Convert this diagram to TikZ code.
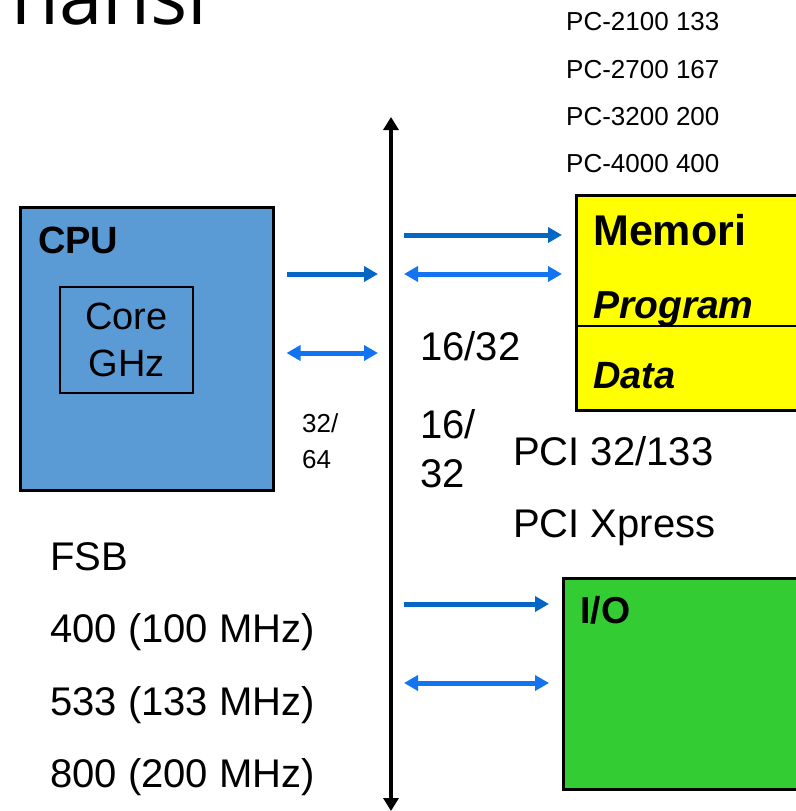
\documentclass[tikz,border=0pt]{standalone}
\usepackage{fontspec}
\setmainfont{Liberation Sans}
\newfontfamily\titlefont{Open Sans}
\usetikzlibrary{positioning,arrows.meta}
\definecolor{cpublue}{RGB}{91,155,213}
\definecolor{arrdk}{RGB}{5,102,196}
\definecolor{arrlt}{RGB}{18,116,240}
\definecolor{memyel}{RGB}{255,255,0}
\definecolor{iogreen}{RGB}{51,204,51}

\begin{document}
\begin{tikzpicture}[
  x=1pt, y=-1pt,
  lbl/.style={anchor=base west, inner sep=0pt, align=left},
  big/.style={font=\fontsize{40}{47}\selectfont},
  small/.style={font=\fontsize{26}{36}\selectfont},
  unit/.style={draw, line width=3pt, inner sep=0pt},
  sarr/.style={arrdk, line width=5pt, shorten <=13pt, shorten >=13pt,
               -{Triangle[length=14pt, width=15pt]}},
  darr/.style={arrlt, line width=5pt, shorten <=13pt, shorten >=13pt,
               {Triangle[length=14pt, width=15pt]}-{Triangle[length=14pt, width=15pt]}},
]
\useasboundingbox (0,0) rectangle (795,811);
% Title (cut off at the top)
\node[lbl, font=\fontsize{78}{78}\titlefont] (title) at (11,24) {nansi};
% Bus
\coordinate (bustop) at (391,117);
\coordinate (busbot) at (391,811);
\draw[line width=4pt, {Triangle[length=13pt, width=15pt]}-{Triangle[length=13pt, width=15pt]}]
  (bustop) -- (busbot);
% CPU
\node[unit, fill=cpublue, minimum width=253pt, minimum height=283pt] (cpu) at (146.5,348.5) {};
\node[lbl, font=\fontsize{38}{38}\selectfont\bfseries] (cpulbl) at (38,253) {CPU};
\node[draw, line width=1.3pt, fill=cpublue, minimum width=133pt, minimum height=106pt,
      align=center, font=\fontsize{38}{47}\selectfont] (core) at (126.5,340) {Core\\GHz};
% Memory
\node[unit, fill=memyel, minimum width=260pt, minimum height=215pt, anchor=north west] (mem) at (575,194) {};
\draw[line width=2pt] (mem.west |- 0,326) -- (mem.east |- 0,326);
\node[lbl, font=\fontsize{43}{43}\selectfont\bfseries] (memlbl) at (593,245) {Memori};
\node[lbl, font=\fontsize{39}{39}\selectfont\bfseries\itshape] (prog) at (593,318) {Program};
\node[lbl, font=\fontsize{38}{38}\selectfont\bfseries\itshape] (data) at (593,388) {Data};
% I/O
\node[unit, fill=iogreen, minimum width=260pt, minimum height=211pt, anchor=north west] (io) at (562,577) {};
\node[lbl, font=\fontsize{37.5}{37.5}\selectfont\bfseries] (iolbl) at (580,623) {I/O};
% Memory speeds
\node[lbl, small] (pc1) at (566,30)  {PC-2100 133};
\node[lbl, small] (pc2) at (566,78)  {PC-2700 167};
\node[lbl, small] (pc3) at (566,125) {PC-3200 200};
\node[lbl, small] (pc4) at (566,172) {PC-4000 400};
% Bus widths
\node[lbl, big] (w1) at (420,360) {16/32};
\node[lbl, small] (w2) at (302,468) {32/\\64};
\node[lbl, font=\fontsize{40}{49}\selectfont] (w3) at (420,487) {16/\\32};
\node[lbl, big] (pci1) at (513,465) {PCI 32/133};
\node[lbl, big] (pci2) at (513,537) {PCI Xpress};
% FSB
\node[lbl, big] (fsb)  at (50,570) {FSB};
\node[lbl, big] (fsb1) at (50,642) {400 (100 MHz)};
\node[lbl, big] (fsb2) at (50,715) {533 (133 MHz)};
\node[lbl, big] (fsb3) at (50,787) {800 (200 MHz)};
% Edges
\draw[sarr, shorten <=12pt] (cpu.east |- 0,274) -- (bustop |- 0,274);
\draw[darr, shorten <=12pt] (cpu.east |- 0,353) -- (bustop |- 0,353);
\draw[sarr] (bustop |- 0,235) -- (mem.west |- 0,235);
\draw[darr] (bustop |- 0,274) -- (mem.west |- 0,274);
\draw[sarr] (bustop |- 0,604) -- (io.west |- 0,604);
\draw[darr] (bustop |- 0,683) -- (io.west |- 0,683);
\end{tikzpicture}
\end{document}
